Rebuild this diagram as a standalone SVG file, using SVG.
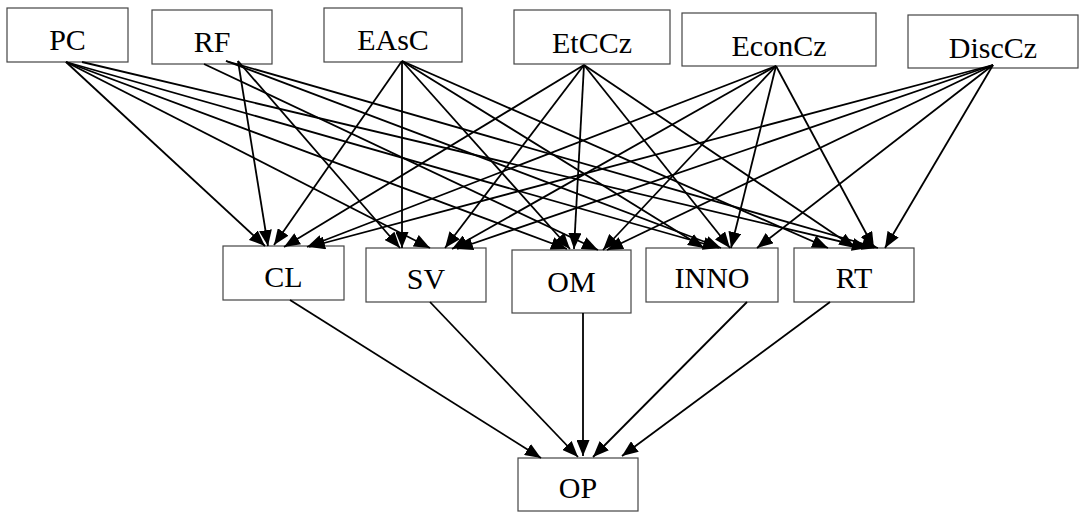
<svg xmlns="http://www.w3.org/2000/svg" width="1086" height="512" viewBox="0 0 1086 512">
<style>
.box{fill:#fff;stroke:#444;stroke-width:1.2}
.lbl{font-family:"Liberation Serif","Times New Roman",serif;font-size:30px;fill:#000;text-anchor:middle}
.e{stroke:#000;stroke-width:1.8;fill:none;marker-end:url(#ah)}
</style>
<defs>
<marker id="ah" viewBox="0 0 16 13" refX="16" refY="6.5" markerWidth="16" markerHeight="13" markerUnits="userSpaceOnUse" orient="auto">
<path d="M0,0 L16,6.5 L0,13 Z" fill="#000"/>
</marker>
</defs>
<rect width="1086" height="512" fill="#fff"/>
<g id="PC"><rect class="box" x="7" y="8" width="121" height="54"/><text class="lbl" x="67.5" y="50">PC</text></g>
<g id="RF"><rect class="box" x="152" y="10" width="120" height="54"/><text class="lbl" x="212" y="52">RF</text></g>
<g id="EAsC"><rect class="box" x="324" y="8" width="138" height="54"/><text class="lbl" x="393" y="50">EAsC</text></g>
<g id="EtCCz"><rect class="box" x="514" y="10" width="156" height="54"/><text class="lbl" x="592" y="53">EtCCz</text></g>
<g id="EconCz"><rect class="box" x="682" y="13" width="194" height="53"/><text class="lbl" x="779" y="56">EconCz</text></g>
<g id="DiscCz"><rect class="box" x="908" y="15" width="170" height="53"/><text class="lbl" x="993" y="58">DiscCz</text></g>
<g id="CL"><rect class="box" x="223" y="246" width="121" height="54"/><text class="lbl" x="283.5" y="287">CL</text></g>
<g id="SV"><rect class="box" x="366" y="248" width="120" height="54"/><text class="lbl" x="426" y="289">SV</text></g>
<g id="OM"><rect class="box" x="512" y="250" width="119" height="63"/><text class="lbl" x="571.5" y="292">OM</text></g>
<g id="INNO"><rect class="box" x="646" y="248" width="132" height="54"/><text class="lbl" x="712" y="288">INNO</text></g>
<g id="RT"><rect class="box" x="794" y="248" width="120" height="54"/><text class="lbl" x="854" y="288">RT</text></g>
<g id="OP"><rect class="box" x="518" y="458" width="120" height="53"/><text class="lbl" x="578" y="498">OP</text></g>
<g id="connectors">
<line class="e" x1="66" y1="62" x2="265" y2="246"/>
<line class="e" x1="66" y1="62" x2="430" y2="248"/>
<line class="e" x1="66" y1="62" x2="567" y2="249"/>
<line class="e" x1="66" y1="62" x2="719" y2="248"/>
<line class="e" x1="82" y1="62" x2="868" y2="248"/>
<line class="e" x1="238" y1="61" x2="268" y2="246"/>
<line class="e" x1="238" y1="61" x2="400" y2="248"/>
<line class="e" x1="204" y1="64" x2="598" y2="250"/>
<line class="e" x1="226" y1="61" x2="721" y2="248"/>
<line class="e" x1="226" y1="61" x2="878" y2="248"/>
<line class="e" x1="402" y1="61" x2="274" y2="245"/>
<line class="e" x1="402" y1="61" x2="402" y2="248"/>
<line class="e" x1="402" y1="61" x2="570" y2="249"/>
<line class="e" x1="402" y1="61" x2="704" y2="248"/>
<line class="e" x1="402" y1="61" x2="828" y2="248"/>
<line class="e" x1="584" y1="65" x2="284" y2="247"/>
<line class="e" x1="584" y1="65" x2="445" y2="248"/>
<line class="e" x1="584" y1="65" x2="574" y2="249"/>
<line class="e" x1="584" y1="65" x2="730" y2="248"/>
<line class="e" x1="584" y1="65" x2="855" y2="248"/>
<line class="e" x1="776" y1="66" x2="307" y2="247"/>
<line class="e" x1="776" y1="66" x2="452" y2="249"/>
<line class="e" x1="776" y1="66" x2="603" y2="250"/>
<line class="e" x1="776" y1="66" x2="731" y2="248"/>
<line class="e" x1="776" y1="66" x2="874" y2="248"/>
<line class="e" x1="993" y1="65" x2="309" y2="247"/>
<line class="e" x1="993" y1="65" x2="457" y2="249"/>
<line class="e" x1="993" y1="65" x2="607" y2="250"/>
<line class="e" x1="993" y1="65" x2="757" y2="248"/>
<line class="e" x1="993" y1="65" x2="885" y2="248"/>
<line class="e" x1="290" y1="300" x2="541" y2="458"/>
<line class="e" x1="430" y1="302" x2="578" y2="457"/>
<line class="e" x1="583" y1="313" x2="583" y2="456"/>
<line class="e" x1="747" y1="302" x2="593" y2="457"/>
<line class="e" x1="830" y1="302" x2="622" y2="456"/>
</g>
</svg>
